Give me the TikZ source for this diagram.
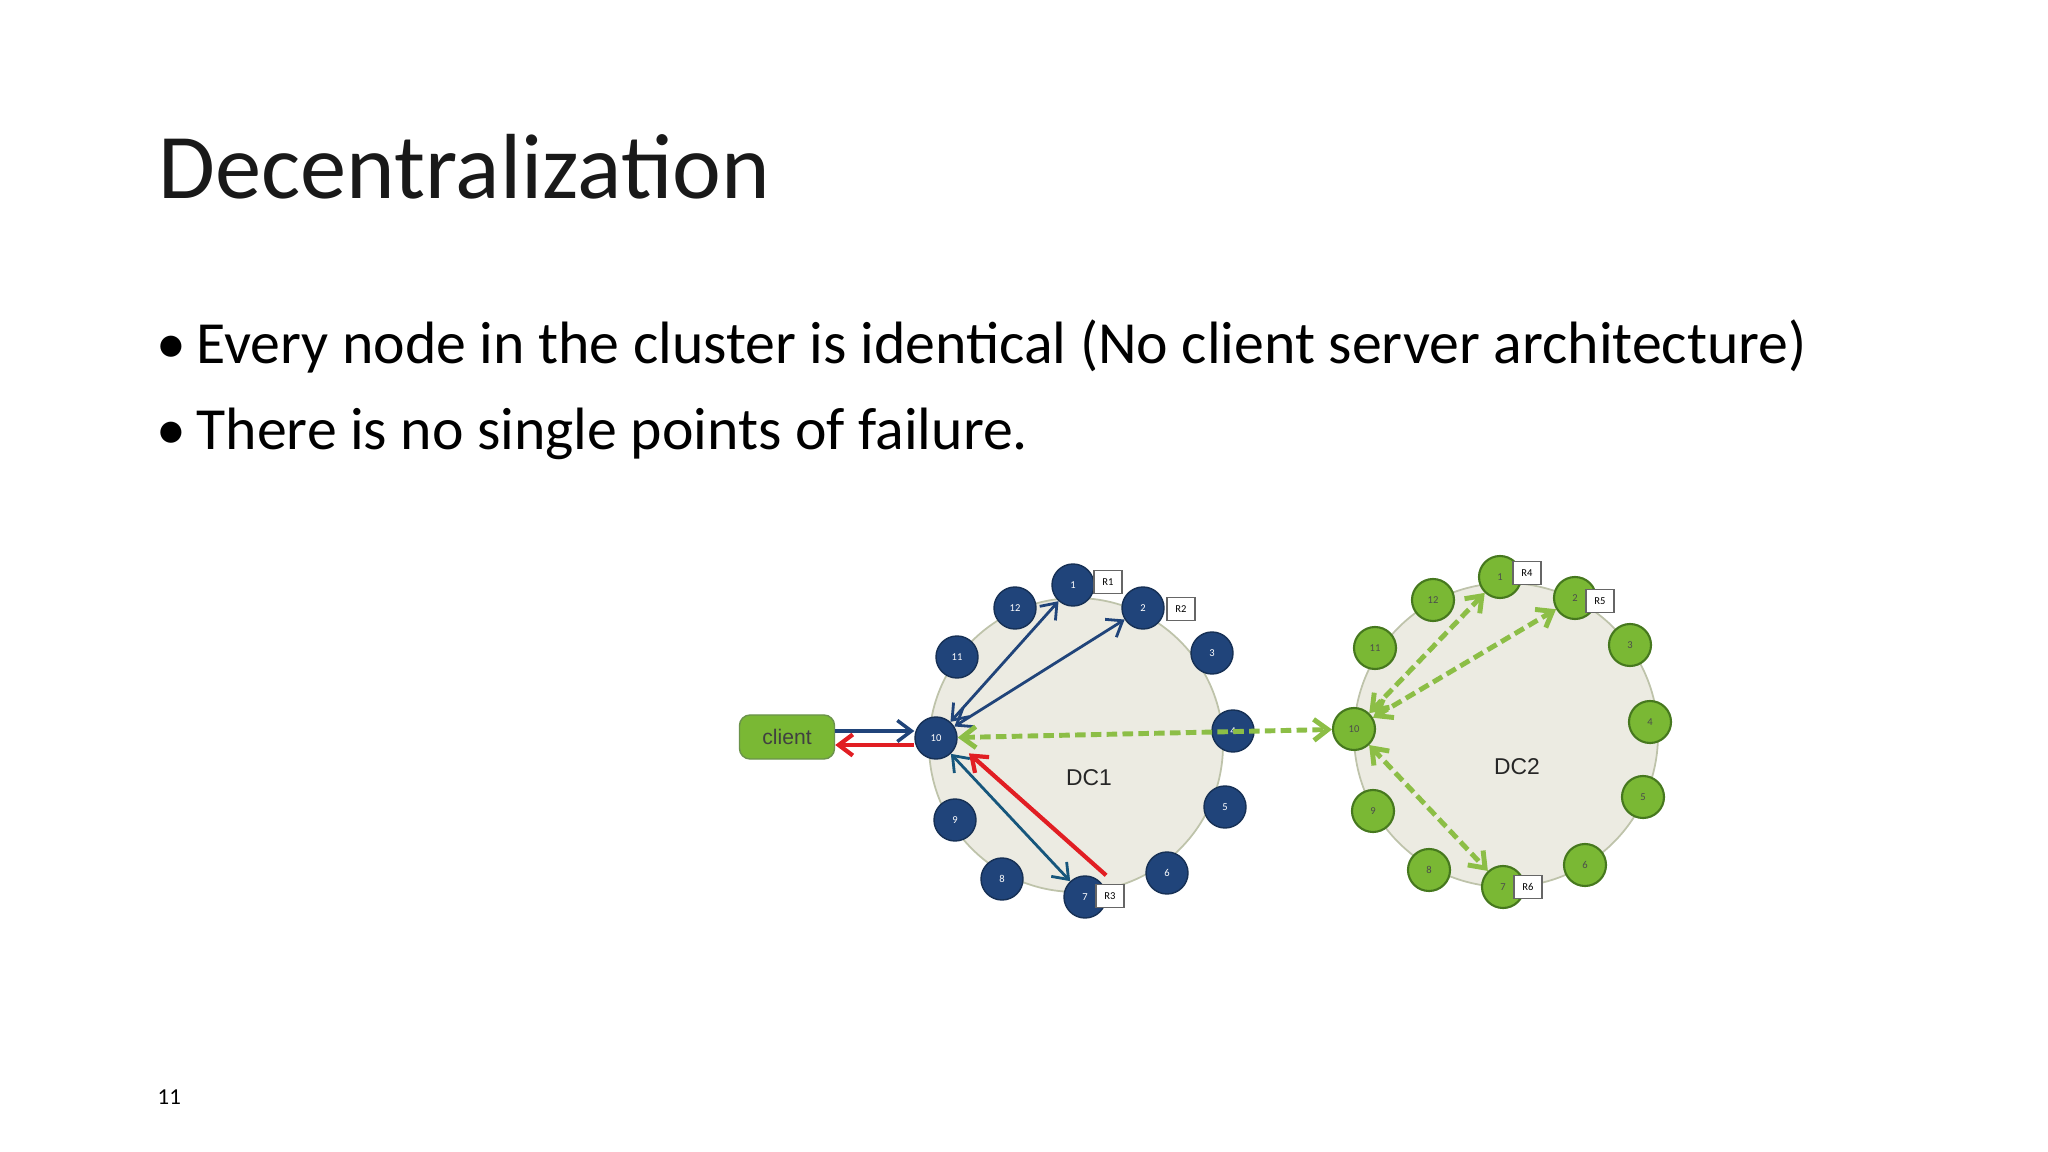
\documentclass[tikz,border=0pt]{standalone}
\usepackage{fontspec}
\setmainfont{Carlito}
\newfontfamily\arialf{Liberation Sans}
\usetikzlibrary{arrows.meta}
\definecolor{navy}{RGB}{32,68,122}
\definecolor{gnode}{RGB}{122,184,52}
\definecolor{gdark}{RGB}{70,120,30}
\definecolor{ringfill}{RGB}{236,235,226}
\definecolor{ringline}{RGB}{190,195,170}
\definecolor{gdash}{RGB}{140,190,70}
\definecolor{redc}{RGB}{225,30,35}
\begin{document}
\begin{tikzpicture}[x=0.01cm,y=-0.01cm,
  bn/.style={circle,fill=navy,draw=navy!70!black,line width=0.4pt,minimum size=0.42cm,inner sep=0pt,text=white,font=\fontsize{3}{3}\selectfont},
  gn/.style={circle,fill=gnode,draw=gdark,line width=0.6pt,minimum size=0.42cm,inner sep=0pt,text=black!70,font=\fontsize{3}{3}\selectfont},
  rbox/.style={draw=black!60,fill=white,line width=0.3pt,minimum width=0.28cm,minimum height=0.23cm,inner sep=0pt,font=\fontsize{3}{3}\selectfont},
  ring/.style={fill=ringfill,draw=ringline,line width=0.5pt},
  barr/.style={navy,line width=0.8pt,{Straight Barb[length=4pt,width=6pt]}-{Straight Barb[length=4pt,width=6pt]}},
  garr/.style={gdash,line width=1.4pt,dash pattern=on 3pt off 1.5pt,{Straight Barb[length=4pt,width=6pt]}-{Straight Barb[length=4pt,width=6pt]}},
  btext/.style={anchor=base west,font=\fontsize{17}{18}\selectfont},
]
\useasboundingbox (0,0) rectangle (2048,1152);
\node[anchor=base west,inner sep=0pt,font=\fontsize{26.3}{28}\selectfont,text=black!90] (title) at (158,199) {Decentralization};
\node[btext,inner sep=0pt] (d1) at (156,364) {•};
\node[btext,inner sep=0pt] (b1) at (196,364) {Every node in the cluster is identical (No client server architecture)};
\node[btext,inner sep=0pt] (d2) at (156,450) {•};
\node[btext,inner sep=0pt] (b2) at (196,450) {There is no single points of failure.};
\node[anchor=base west,inner sep=0pt,font=\fontsize{6.5}{7}\selectfont] (pg) at (157,1104) {11};
% rings
\draw[ring] (1076,745) circle[radius=147];
\draw[ring] (1506,735) circle[radius=152];
\node[font=\arialf\fontsize{6.5}{7}\selectfont,text=black!85] (dc1) at (1089,778) {DC1};
\node[font=\arialf\fontsize{6.5}{7}\selectfont,text=black!85] (dc2) at (1517,767) {DC2};
% DC1 nodes
\foreach \n/\x/\y in {1/1073/585,2/1143/608,3/1212/653,4/1233/731,5/1225/807,6/1167/873,7/1085/897,8/1002/879,9/955/820,10/936/738,11/957/657,12/1015/608}
  \node[bn] (a\n) at (\x,\y) {\n};
\node[rbox] (r1) at (1108,582) {R1};
\node[rbox] (r2) at (1181,609) {R2};
\node[rbox] (r3) at (1110,896) {R3};
% DC2 nodes
\foreach \n/\x/\y in {1/1500/577,2/1575/598,3/1630/645,4/1650/722,5/1643/797,6/1585/865,7/1503/887,8/1429/870,9/1373/811,10/1354/729,11/1375/648,12/1433/600}
  \node[gn] (g\n) at (\x,\y) {\n};
\node[rbox] (r4) at (1527,573) {R4};
\node[rbox] (r5) at (1600,601) {R5};
\node[rbox] (r6) at (1528,887) {R6};
% client
\node[fill=gnode,draw=gdark!80,rounded corners=3pt,minimum width=0.95cm,minimum height=0.44cm,inner sep=0pt,font=\arialf\fontsize{6}{7}\selectfont,text=black!75] (client) at (787,737) {client};
% arrows
\draw[navy,line width=1pt,-{Straight Barb[length=4pt,width=6pt]}] (client.east|-0,731) -- (a10.west|-0,731);
\draw[redc,line width=1.2pt,-{Straight Barb[length=4pt,width=6pt]}] (a10.west|-0,745) -- (client.east|-0,745);
\draw[barr] (a10) -- (a1);
\draw[barr] (a10) -- (a2);
\draw[barr,navy!70!teal] (a10) -- (a7);
\draw[redc,line width=1.2pt,-{Straight Barb[length=4pt,width=6pt]}] ([xshift=6pt]a7.north) -- ([xshift=5pt]a10.south east);
\draw[garr] (a10) -- (g10);
\draw[garr] (g10) -- (g1);
\draw[garr] (g10) -- (g2);
\draw[garr] (g10) -- (g7);
\end{tikzpicture}
\end{document}
